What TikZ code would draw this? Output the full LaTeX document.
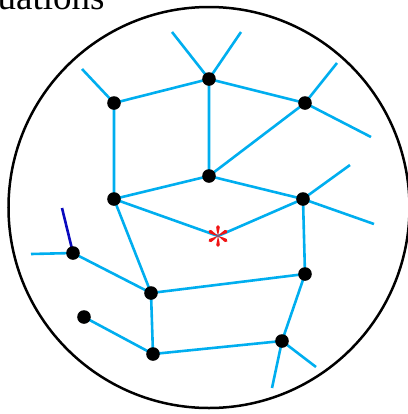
\documentclass[tikz,border=0pt]{standalone}
\usepackage{fontspec}
\setmainfont{Liberation Serif}
\usepackage{xcolor}
\definecolor{lcyan}{RGB}{0,174,239}
\definecolor{dnavy}{RGB}{10,10,190}
\definecolor{sred}{RGB}{240,20,20}
\usepackage{tikz}
\usetikzlibrary{calc}

\tikzset{
  bond/.style={lcyan,line width=2.6bp},
  vdot/.style={fill=black},
}

\begin{document}
\begin{tikzpicture}[x=1bp,y=-1bp]
  \useasboundingbox (0,0) rectangle (408,414);
  % heading, cut at the top
  \node[anchor=base west,inner sep=0pt,font=\fontsize{37bp}{40bp}\selectfont] (title) at (-2.5,9.3) {uations};
  % boundary
  \draw[line width=2.5bp] (209,207.5) circle[radius=200.5bp];
  % vertices
  \coordinate (A) at (114,103);
  \coordinate (B) at (209,79);
  \coordinate (C) at (305,103);
  \coordinate (D) at (209,176);
  \coordinate (E) at (114,199);
  \coordinate (F) at (303,199);
  \coordinate (G) at (73,253);
  \coordinate (H) at (151,293);
  \coordinate (I) at (305,274);
  \coordinate (J) at (84,317);
  \coordinate (K) at (153,354);
  \coordinate (L) at (282,341);
  \coordinate (S) at (218,236);
  % free ends
  \coordinate (a1) at (82,69);
  \coordinate (b1) at (172,32);
  \coordinate (b2) at (241,32);
  \coordinate (c1) at (337,63);
  \coordinate (c2) at (371,137);
  \coordinate (f1) at (350,165);
  \coordinate (f2) at (374,224);
  \coordinate (g1) at (31,254);
  \coordinate (g2) at (62,208);
  \coordinate (l1) at (272,388);
  \coordinate (l2) at (316,367);
  % bonds
  \draw[bond] (A) -- (B) -- (C);
  \draw[bond] (a1) -- (A) -- (E) -- (D) -- (C) -- (c2);
  \draw[bond] (b1) -- (B) -- (b2);
  \draw[bond] (B) -- (D) -- (F) -- (I) -- (L) -- (K) -- (H) -- (I);
  \draw[bond] (c1) -- (C);
  \draw[bond] (E) -- (S) -- (F);
  \draw[bond] (f1) -- (F) -- (f2);
  \draw[bond] (E) -- (H) -- (G) -- (g1);
  \draw[bond] (J) -- (K);
  \draw[bond] (l1) -- (L) -- (l2);
  \draw[dnavy,line width=2.6bp] (g2) -- (G);
  % dots
  \foreach \v in {A,B,C,D,E,F,G,H,I,J,K,L}
    \fill[vdot] (\v) circle[radius=6.8bp];
  % red asterisk
  \foreach \ang in {90,210,330,30,150,270}
    \fill[sred] (S) -- ($(S)+(\ang+14:5.5bp)$) arc[start angle=\ang+14,end angle=\ang+90,radius=0pt]
      -- ($(S)+(\ang:9bp)+(\ang+90:1.8bp)$) arc[start angle=\ang+90,end angle=\ang-90,radius=1.8bp] -- cycle;
\end{tikzpicture}
\end{document}
